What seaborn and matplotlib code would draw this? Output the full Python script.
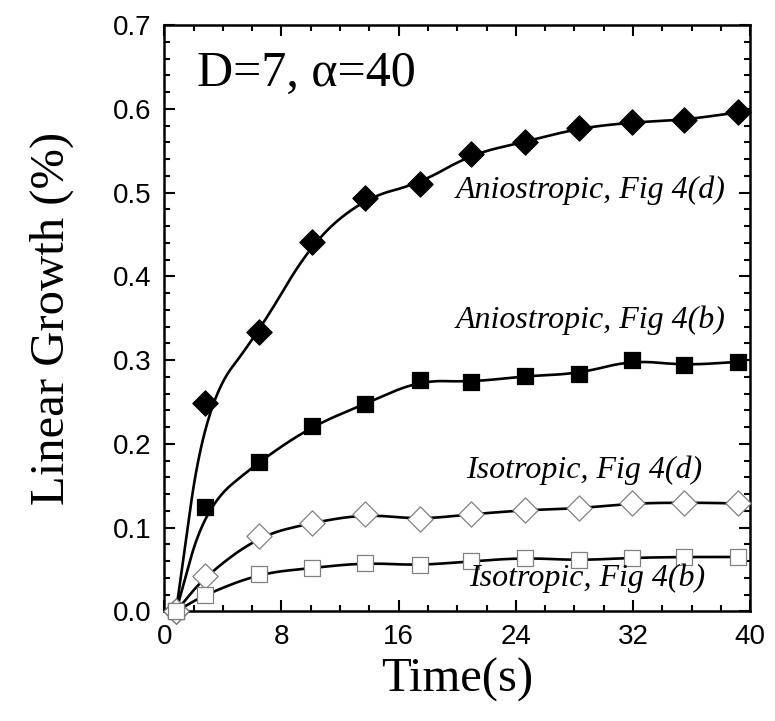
import matplotlib.pyplot as plt
import numpy as np
import seaborn as sns
from matplotlib.ticker import FormatStrFormatter, MultipleLocator

# values
time_s = [0.8, 2.78, 6.47, 10.07, 13.72, 17.43, 20.96, 24.65, 28.3, 31.9, 35.5, 39.2]
aniso_d = [0.0, 0.249, 0.334, 0.441, 0.494, 0.511, 0.546, 0.561, 0.577, 0.584, 0.587, 0.596]
aniso_b = [0.0, 0.125, 0.179, 0.221, 0.248, 0.276, 0.274, 0.281, 0.284, 0.300, 0.294, 0.298]
iso_d = [0.0, 0.042, 0.090, 0.106, 0.116, 0.110, 0.116, 0.121, 0.123, 0.129, 0.130, 0.129]
iso_b = [0.0, 0.020, 0.045, 0.052, 0.058, 0.055, 0.060, 0.064, 0.061, 0.064, 0.065, 0.065]

labels = [
    "Aniostropic, Fig 4(d)",
    "Aniostropic, Fig 4(b)",
    "Isotropic, Fig 4(d)",
    "Isotropic, Fig 4(b)",
]
label_pos = [(38.3, 0.503), (38.3, 0.348), (36.7, 0.168), (36.9, 0.040)]

sns.set_style("ticks")
plt.rcParams["font.family"] = ["Liberation Sans", "DejaVu Sans"]
plt.rcParams.update({
    "text.color": "black",
    "axes.labelcolor": "black",
    "xtick.color": "black",
    "ytick.color": "black",
})
serif = ["Liberation Serif", "DejaVu Serif"]


def smooth(x, y, iters=5):
    # Chaikin corner cutting (B-spline look of the original plot), ends kept
    p = np.column_stack([x, y]).astype(float)
    for _ in range(iters):
        q = 0.75 * p[:-1] + 0.25 * p[1:]
        r = 0.25 * p[:-1] + 0.75 * p[1:]
        cut = np.empty((2 * len(q), 2))
        cut[0::2] = q
        cut[1::2] = r
        p = np.vstack([p[0], cut, p[-1]])
    return p[:, 0], p[:, 1]


fig = plt.figure(figsize=(7.75, 7.21), dpi=100)
ax = fig.add_axes([0.212, 0.152, 0.756, 0.813])

series = [
    (aniso_d, "D", "black", "black", 165),
    (aniso_b, "s", "black", "black", 125),
    (iso_d, "D", "white", "#808080", 165),
    (iso_b, "s", "white", "#808080", 125),
]
for vals, mk, fc, ec, size in series:
    cx, cy = smooth(time_s, vals)
    sns.lineplot(x=cx, y=cy, sort=False, estimator=None, color="black",
                 linewidth=1.9, ax=ax)
for vals, mk, fc, ec, size in series:
    sns.scatterplot(x=time_s, y=vals, marker=mk, s=size, color=fc,
                    edgecolor=ec, linewidth=0.9, zorder=3, clip_on=False, ax=ax)

for text, (tx, ty) in zip(labels, label_pos):
    ax.text(tx, ty, text, ha="right", va="center", fontsize=23,
            family=serif, style="italic")
ax.text(2.2, 0.642, "D=7, α=40", ha="left", va="center", fontsize=36,
        family=serif)

ax.set_xlim(0, 40)
ax.set_ylim(0, 0.7)
ax.xaxis.set_major_locator(MultipleLocator(8))
ax.xaxis.set_minor_locator(MultipleLocator(2))
ax.yaxis.set_major_locator(MultipleLocator(0.1))
ax.yaxis.set_minor_locator(MultipleLocator(0.02))
ax.yaxis.set_major_formatter(FormatStrFormatter("%.1f"))
ax.tick_params(which="both", direction="in", top=True, right=True,
               width=1.5, labelsize=20)
ax.tick_params(which="major", length=8, pad=9)
ax.tick_params(which="minor", length=4.5)
for sp in ax.spines.values():
    sp.set_linewidth(1.8)
    sp.set_color("black")

ax.set_xlabel("Time(s)", fontsize=35, family=serif, labelpad=6)
ax.set_ylabel("Linear Growth (%)", fontsize=35, family=serif, labelpad=28)

fig.savefig("out.png", dpi=100)
